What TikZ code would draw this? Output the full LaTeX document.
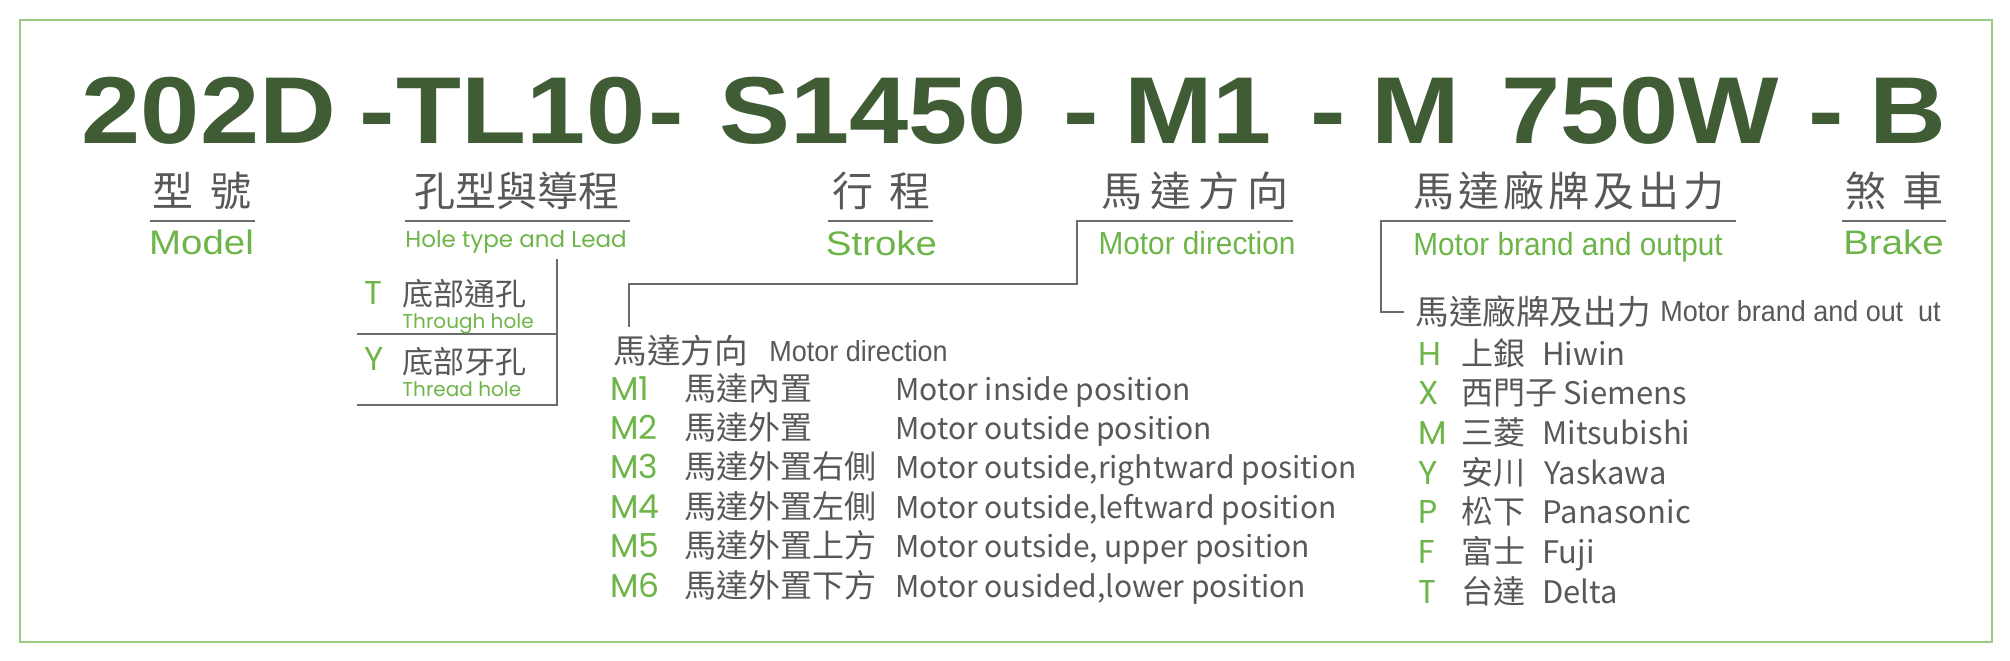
\documentclass[tikz,border=0pt]{standalone}
\usepackage{fontspec}
\setmainfont{Liberation Sans}
\newfontfamily\titlefont[FakeStretch=1.12]{Liberation Sans}
\newfontfamily\widefont[FakeStretch=1.13]{Liberation Sans}
\newfontfamily\narrowfont[FakeStretch=0.93]{Liberation Sans}
\newfontfamily\cjk{Noto Sans CJK TC}
\newfontfamily\geo{Poppins}
\definecolor{titlegreen}{HTML}{3F5C35}
\definecolor{lgreen}{HTML}{6DB548}
\definecolor{tgray}{HTML}{585858}
\definecolor{lgray}{HTML}{6B6B6B}
\definecolor{bgreen}{HTML}{9BCB80}
\tikzset{
  ttl/.style={inner sep=0, anchor=base, font=\titlefont\bfseries\fontsize{47.5}{50}\selectfont, text=titlegreen},
  lab/.style={inner sep=0, anchor=center, font=\cjk\fontsize{20.5}{22}\selectfont, text=tgray},
  enwide/.style={inner sep=0, anchor=base, font=\widefont\fontsize{17}{19}\selectfont, text=lgreen},
  ennar/.style={inner sep=0, anchor=base, font=\narrowfont\fontsize{16}{18}\selectfont, text=lgreen},
  engeo/.style={inner sep=0, anchor=base, font=\geo\fontsize{11.5}{13}\selectfont, text=lgreen},
  key/.style={inner sep=0, anchor=base west, font=\geo\fontsize{16.5}{18}\selectfont, text=lgreen},
  small/.style={inner sep=0, anchor=base west, font=\geo\fontsize{10}{12}\selectfont, text=lgreen},
  cjkrow/.style={inner sep=0, anchor=base west, font=\cjk\fontsize{16}{18}\selectfont, text=tgray},
  latrow/.style={inner sep=0, anchor=base west, font=\cjk\fontsize{15}{17}\selectfont, text=tgray},
  brandrow/.style={inner sep=0, anchor=base west, font=\cjk\fontsize{15.5}{17}\selectfont, text=tgray},
  cjkmid/.style={inner sep=0, anchor=west, font=\cjk\fontsize{15.5}{17}\selectfont, text=tgray},
  hdrcjk/.style={inner sep=0, anchor=west, font=\cjk\fontsize{16.8}{18}\selectfont, text=tgray},
  hdren/.style={inner sep=0, anchor=base west, font=\narrowfont\fontsize{14.5}{16}\selectfont, text=tgray},
  rule/.style={draw=lgray, line width=0.7pt},
}
\begin{document}
\begin{tikzpicture}[x=0.5pt,y=-0.5pt]
\useasboundingbox (0,0) rectangle (2010,660);
\draw[bgreen, line width=1pt] (20,20) rectangle (1992,642);

% title
\node[ttl] (t1) at (209,143) {202D};
\node[ttl] (d1) at (377,143) {-};
\node[ttl] (t2) at (521,143) {TL10};
\node[ttl] (d2) at (666,143) {-};
\node[ttl] (t3) at (873,143) {S1450};
\node[ttl] (d3) at (1081,143) {-};
\node[ttl] (t4) at (1198,143) {M1};
\node[ttl] (d4) at (1328,143) {-};
\node[ttl] (t5) at (1416,143) {M};
\node[ttl] (t6) at (1640,143) {750W};
\node[ttl] (d5) at (1826,143) {-};
\node[ttl] (t7) at (1908,143) {B};

% chinese labels
\node[lab] (c1) at (202,191) {型\hspace{8.5pt}號};
\node[lab] (c2) at (516.5,191) {孔型與導程};
\node[lab] (c3) at (881.5,191) {行\hspace{8.5pt}程};
\node[lab] (c4) at (1195,191) {馬\hspace{4pt}達\hspace{4pt}方\hspace{4pt}向};
\node[lab] (c5) at (1569,191) {馬\hspace{2pt}達\hspace{2pt}廠\hspace{2pt}牌\hspace{2pt}及\hspace{2pt}出\hspace{2pt}力};
\node[lab] (c6) at (1894.5,191) {煞\hspace{8pt}車};

% underlines
\coordinate (u1a) at (150,221); \coordinate (u1b) at (255,221);
\coordinate (u2a) at (405,221); \coordinate (u2b) at (630,221);
\coordinate (u3a) at (828,221); \coordinate (u3b) at (933,221);
\coordinate (u4a) at (1077,221); \coordinate (u4b) at (1293,221);
\coordinate (u5a) at (1381,221); \coordinate (u5b) at (1736,221);
\coordinate (u6a) at (1842,221); \coordinate (u6b) at (1946,221);
\draw[rule] (u1a) -- (u1b);
\draw[rule] (u2a) -- (u2b);
\draw[rule] (u3a) -- (u3b);
\draw[rule] (u6a) -- (u6b);

% english labels
\node[enwide] (e1) at (201.5,254) {Model};
\node[engeo] (e2) at (516,247) {Hole type and Lead};
\node[enwide] (e3) at (881.5,255) {Stroke};
\node[ennar] (e4) at (1197,254) {Motor direction};
\node[ennar] (e5) at (1568,255) {Motor brand and output};
\node[enwide] (e6) at (1893.5,254) {Brake};

% hole type box
\coordinate (tyTop) at (557,259);
\coordinate (tyBR) at (557,405);
\coordinate (tyBL) at (357,405);
\coordinate (tyML) at (357,334);
\coordinate (tyMR) at (557,334);
\draw[rule] (tyTop) -- (tyBR) -- (tyBL);
\draw[rule] (tyML) -- (tyMR);
\node[key] (hT) at (364,304) {T};
\node[cjkmid] (hTc) at (402,293.5) {底部通孔};
\node[small] (hTe) at (402,328) {Through hole};
\node[key] (hY) at (364,370) {Y};
\node[cjkmid] (hYc) at (402,361.5) {底部牙孔};
\node[small] (hYe) at (402,396) {Thread hole};

% motor direction list
\coordinate (mdA) at (1077,284);
\coordinate (mdB) at (629,284);
\coordinate (mdC) at (629,327);
\draw[rule] (u4b) -- (u4a) -- (mdA) -- (mdB) -- (mdC);
\node[hdrcjk] (mdh) at (613,350.5) {馬達方向};
\node[hdren] (mdhe) at (769,361) {Motor direction};
\foreach \i/\k/\c/\e in {1/M1/馬達內置/{Motor inside position},
  2/M2/馬達外置/{Motor outside position},
  3/M3/馬達外置右側/{Motor outside,rightward position},
  4/M4/馬達外置左側/{Motor outside,leftward position},
  5/M5/馬達外置上方/{Motor outside, upper position},
  6/M6/馬達外置下方/{Motor ousided,lower position}}{
  \pgfmathsetmacro\yy{400+39.4*(\i-1)}
  \node[key] (mk\i) at (610,\yy) {\k};
  \node[cjkrow] (mc\i) at (684,\yy) {\c};
  \node[latrow] (me\i) at (895,\yy) {\e};
}

% motor brand list
\coordinate (mbA) at (1381,312);
\coordinate (mbB) at (1404,312);
\draw[rule] (u5b) -- (u5a) -- (mbA) -- (mbB);
\node[hdrcjk] (mbh) at (1415,311.5) {馬達廠牌及出力};
\node[hdren] (mbhe) at (1660,321) {Motor brand and out\ \ ut};
\foreach \i/\k/\c/\e/\xx in {1/H/上銀/Hiwin/1542,
  2/X/西門子/Siemens/1563,
  3/M/三菱/Mitsubishi/1542,
  4/Y/安川/Yaskawa/1544,
  5/P/松下/Panasonic/1542,
  6/F/富士/Fuji/1542,
  7/T/台達/Delta/1542}{
  \pgfmathsetmacro\yy{365+39.67*(\i-1)}
  \node[key] (bk\i) at (1418,\yy) {\k};
  \node[cjkrow] (bc\i) at (1461,\yy) {\c};
  \node[brandrow] (be\i) at (\xx,\yy) {\e};
}
\end{tikzpicture}
\end{document}
